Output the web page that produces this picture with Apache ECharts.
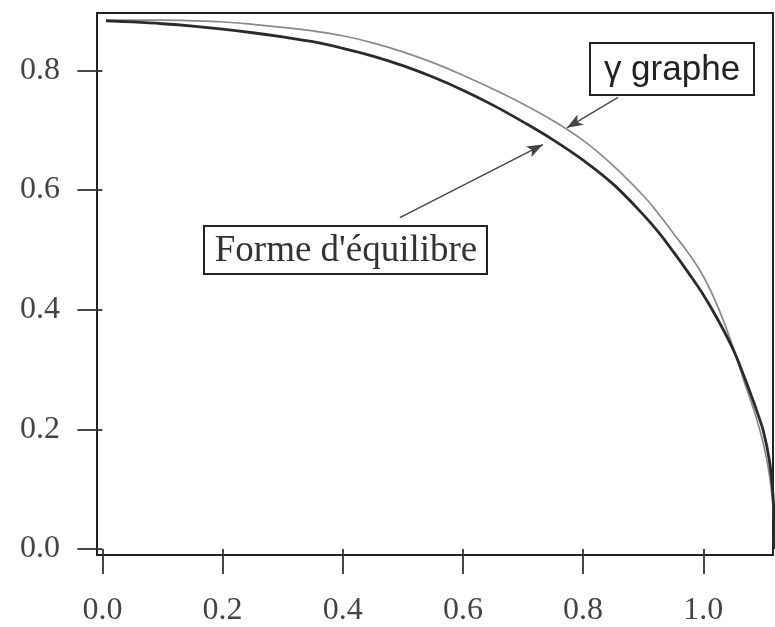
<!DOCTYPE html>
<html>
<head>
<meta charset="utf-8">
<script src="https://cdn.jsdelivr.net/npm/echarts@6/dist/echarts.min.js"></script>
<style>
  html, body { margin: 0; padding: 0; background: #fff; }
  #chart { width: 775px; height: 627px; }
</style>
</head>
<body>
<div id="chart"></div>
<script>
// Equilibrium shape (heavy line) and gamma-graph (thin line), quarter profile
const equilibreCurve = [
  [0.006, 0.883], [0.05, 0.881], [0.10, 0.878], [0.15, 0.874], [0.20, 0.869],
  [0.25, 0.863], [0.30, 0.856], [0.35, 0.848], [0.40, 0.837], [0.45, 0.824],
  [0.50, 0.808], [0.55, 0.789], [0.60, 0.767], [0.65, 0.742], [0.70, 0.714],
  [0.75, 0.684], [0.80, 0.650], [0.85, 0.610], [0.90, 0.559], [0.925, 0.530],
  [0.95, 0.497], [0.975, 0.462], [1.00, 0.425], [1.025, 0.382], [1.05, 0.333],
  [1.07, 0.283], [1.08, 0.256], [1.09, 0.228], [1.10, 0.197], [1.11, 0.148],
  [1.116, 0.090], [1.118, 0.040], [1.119, 0.0]
];
const gammaCurve = [
  [0.006, 0.884], [0.05, 0.884], [0.10, 0.884], [0.15, 0.883], [0.20, 0.881],
  [0.25, 0.877], [0.30, 0.872], [0.35, 0.866], [0.40, 0.858], [0.45, 0.846],
  [0.50, 0.831], [0.55, 0.813], [0.60, 0.792], [0.65, 0.769], [0.70, 0.744],
  [0.75, 0.716], [0.80, 0.683], [0.85, 0.641], [0.90, 0.591], [0.925, 0.561],
  [0.95, 0.528], [0.975, 0.495], [1.00, 0.456], [1.025, 0.403], [1.05, 0.336],
  [1.07, 0.274], [1.08, 0.245], [1.09, 0.213], [1.10, 0.176], [1.11, 0.124],
  [1.116, 0.070], [1.118, 0.030], [1.119, 0.0]
];

// Tick positions
const xTicks = [0.0, 0.2, 0.4, 0.6, 0.8, 1.0];
const yTicks = [0.0, 0.2, 0.4, 0.6, 0.8];

// Callout arrows: [from, to] in data coordinates
const gammaArrow = [[0.858, 0.755], [0.773, 0.704]];
const equilibreArrow = [[0.495, 0.554], [0.733, 0.676]];

const serif = '"Liberation Serif", "Times New Roman", serif';
const sans = '"Liberation Sans", Arial, sans-serif';

const chart = echarts.init(document.getElementById('chart'), null, { renderer: 'canvas' });

const arrowLine = (pair) => [{ coord: pair[0] }, { coord: pair[1] }];

chart.setOption({
  animation: false,
  backgroundColor: '#fff',
  grid: {
    left: 97, right: 2, top: 13, bottom: 66,
    show: true, borderColor: '#222', borderWidth: 2, backgroundColor: 'transparent'
  },
  xAxis: {
    type: 'value', min: -0.009, max: 1.116,
    splitLine: { show: false },
    axisLine: { show: false },
    axisTick: { show: true, customValues: xTicks, length: 25, inside: false,
      lineStyle: { color: '#333', width: 1.8 } },
    axisLabel: { customValues: xTicks, margin: 40, color: '#444',
      fontFamily: serif, fontSize: 32,
      formatter: (v) => v.toFixed(1) }
  },
  yAxis: {
    type: 'value', min: -0.01, max: 0.896,
    splitLine: { show: false },
    axisLine: { show: false },
    axisTick: { show: true, customValues: yTicks, length: 25, inside: false,
      lineStyle: { color: '#333', width: 1.8 } },
    axisLabel: { customValues: yTicks, margin: 37, color: '#444',
      fontFamily: serif, fontSize: 32,
      formatter: (v) => v.toFixed(1) }
  },
  series: [
    {
      name: 'γ graphe', type: 'line', data: gammaCurve, showSymbol: false,
      smooth: 0.4, lineStyle: { color: '#8a8a8a', width: 1.7 }, z: 2,
      markLine: {
        silent: true, symbol: ['none', 'arrow'], symbolSize: [9, 16],
        label: { show: false },
        lineStyle: { color: '#444', width: 1.3, type: 'solid' },
        data: [arrowLine(gammaArrow)]
      }
    },
    {
      name: "Forme d'équilibre", type: 'line', data: equilibreCurve, showSymbol: false,
      smooth: 0.4, lineStyle: { color: '#2b2b2b', width: 2.8 }, z: 3,
      markLine: {
        silent: true, symbol: ['none', 'arrow'], symbolSize: [9, 16],
        label: { show: false },
        lineStyle: { color: '#444', width: 1.3, type: 'solid' },
        data: [arrowLine(equilibreArrow)]
      }
    }
  ],
  graphic: [
    {
      type: 'group', left: 589, top: 42,
      children: [
        { type: 'rect', shape: { x: 0, y: 0, width: 164, height: 52 },
          style: { fill: '#fff', stroke: '#222', lineWidth: 2 } },
        { type: 'text', x: 82, y: 27,
          style: { text: 'γ graphe', font: '35px ' + sans, fill: '#222',
            align: 'center', verticalAlign: 'middle' } }
      ]
    },
    {
      type: 'group', left: 203, top: 225,
      children: [
        { type: 'rect', shape: { x: 0, y: 0, width: 283, height: 48 },
          style: { fill: '#fff', stroke: '#222', lineWidth: 2 } },
        { type: 'text', x: 142, y: 25,
          style: { text: "Forme d'équilibre", font: '37px ' + serif, fill: '#333',
            align: 'center', verticalAlign: 'middle' } }
      ]
    }
  ]
});
</script>
</body>
</html>
